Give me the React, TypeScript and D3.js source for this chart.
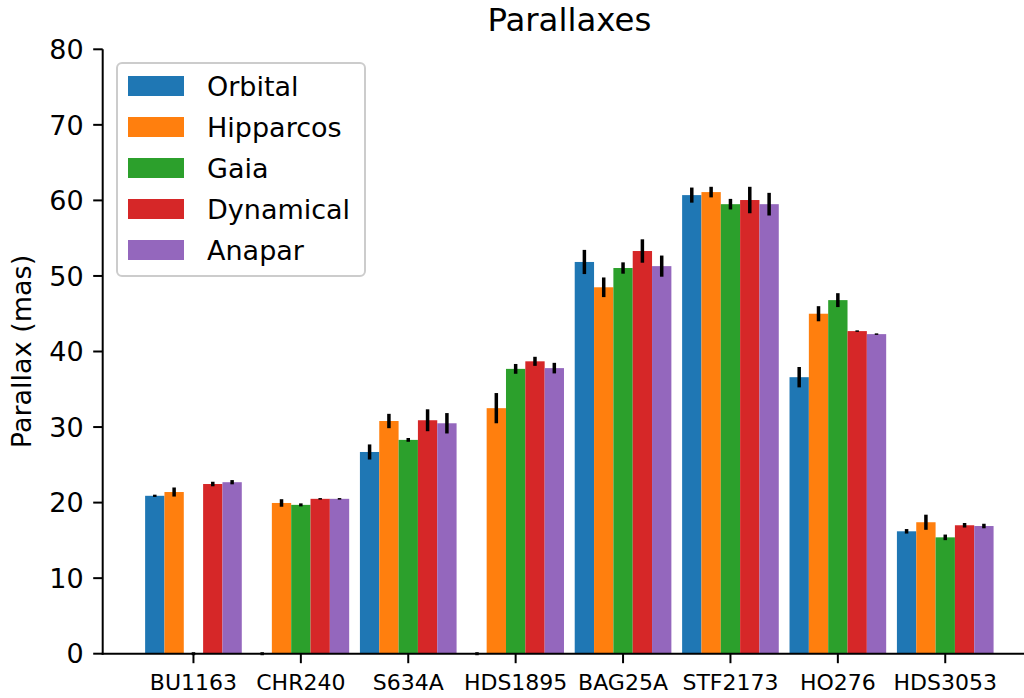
import React from "react";
import * as d3 from "d3";

const categories = ["BU1163", "CHR240", "S634A", "HDS1895", "BAG25A", "STF2173", "HO276", "HDS3053"];
const seriesNames = ["Orbital", "Hipparcos", "Gaia", "Dynamical", "Anapar"];
const orbital = [20.9, 0, 26.7, 0, 51.85, 60.7, 36.6, 16.2];
const orbitalErr = [0.15, 0.2, 1.0, 0.2, 1.6, 1.0, 1.35, 0.3];
const hipparcos = [21.4, 19.95, 30.8, 32.5, 48.5, 61.1, 45.0, 17.4];
const hipparcosErr = [0.6, 0.5, 0.95, 2.0, 1.3, 0.7, 1.0, 1.0];
const gaia = [0, 19.7, 28.3, 37.7, 51.05, 59.5, 46.8, 15.4];
const gaiaErr = [0.2, 0.2, 0.25, 0.65, 0.75, 0.7, 0.92, 0.37];
const dynamical = [22.46, 20.5, 30.9, 38.7, 53.3, 60.05, 42.7, 17.0];
const dynamicalErr = [0.3, 0.1, 1.45, 0.6, 1.55, 1.75, 0.1, 0.3];
const anapar = [22.7, 20.5, 30.5, 37.8, 51.3, 59.5, 42.3, 16.9];
const anaparErr = [0.28, 0.1, 1.35, 0.7, 1.4, 1.5, 0.1, 0.3];
const yTicks = [0, 10, 20, 30, 40, 50, 60, 70, 80];
const colors = ["#1f77b4", "#ff7f0e", "#2ca02c", "#d62728", "#9467bd"];

const values = [orbital, hipparcos, gaia, dynamical, anapar];
const errors = [orbitalErr, hipparcosErr, gaiaErr, dynamicalErr, anaparErr];

const W = 1024;
const H = 698;
const barW = 0.18;
const FONT = "'DejaVu Sans', sans-serif";

export default function App() {
  const x = d3.scaleLinear().domain([-0.845, categories.length - 1 + 0.845]).range([102.7, 1036]);
  const y = d3.scaleLinear().domain([0, 80]).range([653.7, 49.3]);
  const x0 = x.range()[0];
  const y0 = y(0);

  return (
    <div style={{ position: "fixed", left: 0, top: 0 }}>
      <svg width={W} height={H} style={{ display: "block", background: "#fff" }} fontFamily={FONT}>
        {/* bars */}
        {values.map((vals, s) =>
          vals.map((v, i) => {
            const cx = i + (s - 2) * barW;
            const left = x(cx - barW / 2);
            const right = x(cx + barW / 2);
            return (
              <rect
                key={`b${s}-${i}`}
                x={left}
                y={y(v)}
                width={right - left}
                height={y0 - y(v)}
                fill={colors[s]}
              />
            );
          })
        )}
        {/* error bars */}
        {values.map((vals, s) =>
          vals.map((v, i) => {
            const cx = x(i + (s - 2) * barW);
            const e = errors[s][i];
            return (
              <line
                key={`e${s}-${i}`}
                x1={cx}
                x2={cx}
                y1={y(v - e)}
                y2={y(v + e)}
                stroke="#000"
                strokeWidth={3.5}
              />
            );
          })
        )}
        {/* axes */}
        <line x1={x0} x2={x0} y1={y(80)} y2={y0 + 1} stroke="#000" strokeWidth={2} />
        <line x1={x0 - 1} x2={W} y1={y0} y2={y0} stroke="#000" strokeWidth={2} />
        {yTicks.map((t) => (
          <g key={`yt${t}`}>
            <line x1={x0 - 9.5} x2={x0} y1={y(t)} y2={y(t)} stroke="#000" strokeWidth={2} />
            <text x={x0 - 19} y={y(t)} dy="0.36em" textAnchor="end" fontSize={27} fill="#000">
              {t}
            </text>
          </g>
        ))}
        {categories.map((c, i) => (
          <g key={`xt${c}`}>
            <line x1={x(i)} x2={x(i)} y1={y0} y2={y0 + 9.5} stroke="#000" strokeWidth={2} />
            <text x={x(i)} y={690} textAnchor="middle" fontSize={22} fill="#000">
              {c}
            </text>
          </g>
        ))}
        {/* y label */}
        <text
          transform={`translate(31, ${(y(0) + y(80)) / 2}) rotate(-90)`}
          textAnchor="middle"
          fontSize={27}
          fill="#000"
        >
          Parallax (mas)
        </text>
        {/* title */}
        <text x={(x.range()[0] + x.range()[1]) / 2} y={31} textAnchor="middle" fontSize={32.4} fill="#000">
          Parallaxes
        </text>
        {/* legend */}
        <rect x={117} y={63} width={248} height={213} rx={5} fill="#fff" fillOpacity={0.8} stroke="#cccccc" strokeWidth={2} />
        {seriesNames.map((n, s) => (
          <g key={`lg${n}`}>
            <rect x={128} y={76 + s * 41} width={56} height={20} fill={colors[s]} />
            <text x={207} y={86 + s * 41} dy="0.36em" fontSize={27} fill="#000">
              {n}
            </text>
          </g>
        ))}
      </svg>
    </div>
  );
}
